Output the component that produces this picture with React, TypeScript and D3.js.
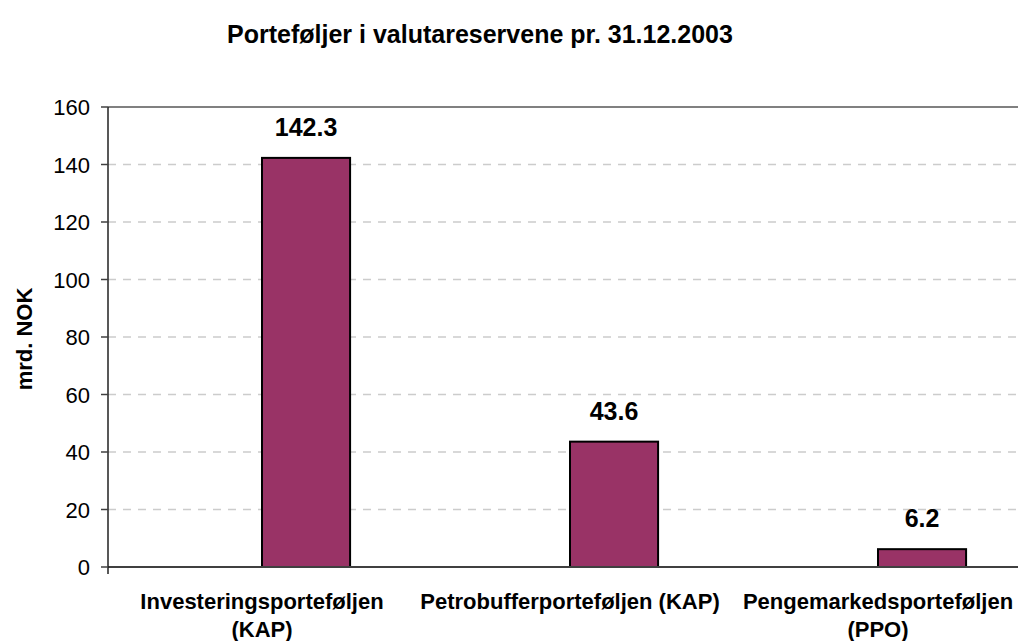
import React from "react";
import * as d3 from "d3";

const WIDTH = 1018;
const HEIGHT = 641;
const MARGIN = { top: 107, right: -14, bottom: 74, left: 108 };
const FONT = "'Liberation Sans', Arial, Helvetica, sans-serif";

const title = "Porteføljer i valutareservene pr. 31.12.2003";
const yTitle = "mrd. NOK";
const categories = ["Investeringsporteføljen (KAP)", "Petrobufferporteføljen (KAP)", "Pengemarkedsporteføljen (PPO)"];
const categoryLines = [
  ["Investeringsporteføljen", "(KAP)"],
  ["Petrobufferporteføljen (KAP)"],
  ["Pengemarkedsporteføljen", "(PPO)"],
];
const values = [142.3, 43.6, 6.2];
const yTicks = [0, 20, 40, 60, 80, 100, 120, 140, 160];

export default function App() {
  const x = d3
    .scaleBand<string>()
    .domain(categories)
    .range([MARGIN.left, WIDTH - MARGIN.right]);
  const y = d3
    .scaleLinear()
    .domain([0, 160])
    .range([HEIGHT - MARGIN.bottom, MARGIN.top]);

  const bw = x.bandwidth();
  const barW = bw * 0.286;
  const x0 = MARGIN.left;
  const y0 = y(0);

  return (
    <svg
      width={WIDTH}
      height={HEIGHT}
      style={{ position: "absolute", left: 0, top: 0, background: "#fff" }}
      fontFamily={FONT}
    >
      {/* titel */}
      <text x={480} y={43} textAnchor="middle" fontSize={25} fontWeight="bold" fill="#000">
        {title}
      </text>

      {/* gridlinjer */}
      {yTicks.slice(1, -1).map((t) => (
        <line
          key={t}
          x1={x0}
          x2={WIDTH}
          y1={y(t)}
          y2={y(t)}
          stroke="#cccccc"
          strokeWidth={1.5}
          strokeDasharray="8,7"
        />
      ))}
      <line x1={x0} x2={WIDTH} y1={y(160)} y2={y(160)} stroke="#808080" strokeWidth={2} />

      {/* stolper */}
      {categories.map((c, i) => {
        const bx = (x(c) ?? 0) + bw * 0.5;
        const by = y(values[i]);
        return (
          <g key={c}>
            <rect
              x={bx}
              y={by}
              width={barW}
              height={y0 - by}
              fill="#993366"
              stroke="#000"
              strokeWidth={2}
            />
            <text
              x={bx + barW / 2}
              y={by - 22}
              textAnchor="middle"
              fontSize={25}
              fontWeight="bold"
              fill="#000"
            >
              {values[i]}
            </text>
          </g>
        );
      })}

      {/* akser */}
      <line x1={x0} x2={WIDTH} y1={y0} y2={y0} stroke="#404040" strokeWidth={2} />
      <line x1={x0} x2={x0} y1={y(160)} y2={y0 + 7} stroke="#202020" strokeWidth={1.5} />
      {yTicks.map((t) => (
        <g key={t}>
          <line x1={x0 - 7} x2={x0} y1={y(t)} y2={y(t)} stroke="#404040" strokeWidth={1.5} />
          <text x={x0 - 18} y={y(t) + 8} textAnchor="end" fontSize={22} fill="#000">
            {t}
          </text>
        </g>
      ))}

      {/* kategorietiketter */}
      {categories.map((c, i) => (
        <text
          key={c}
          x={(x(c) ?? 0) + bw / 2}
          y={609}
          textAnchor="middle"
          fontSize={22}
          fontWeight="bold"
          fill="#000"
        >
          {categoryLines[i].map((line, j) => (
            <tspan key={j} x={(x(c) ?? 0) + bw / 2} dy={j === 0 ? 0 : 28}>
              {line}
            </tspan>
          ))}
        </text>
      ))}

      {/* y-aksetittel */}
      <text
        transform={`translate(32, 339) rotate(-90)`}
        textAnchor="middle"
        fontSize={22}
        fontWeight="bold"
        fill="#000"
      >
        {yTitle}
      </text>
    </svg>
  );
}
